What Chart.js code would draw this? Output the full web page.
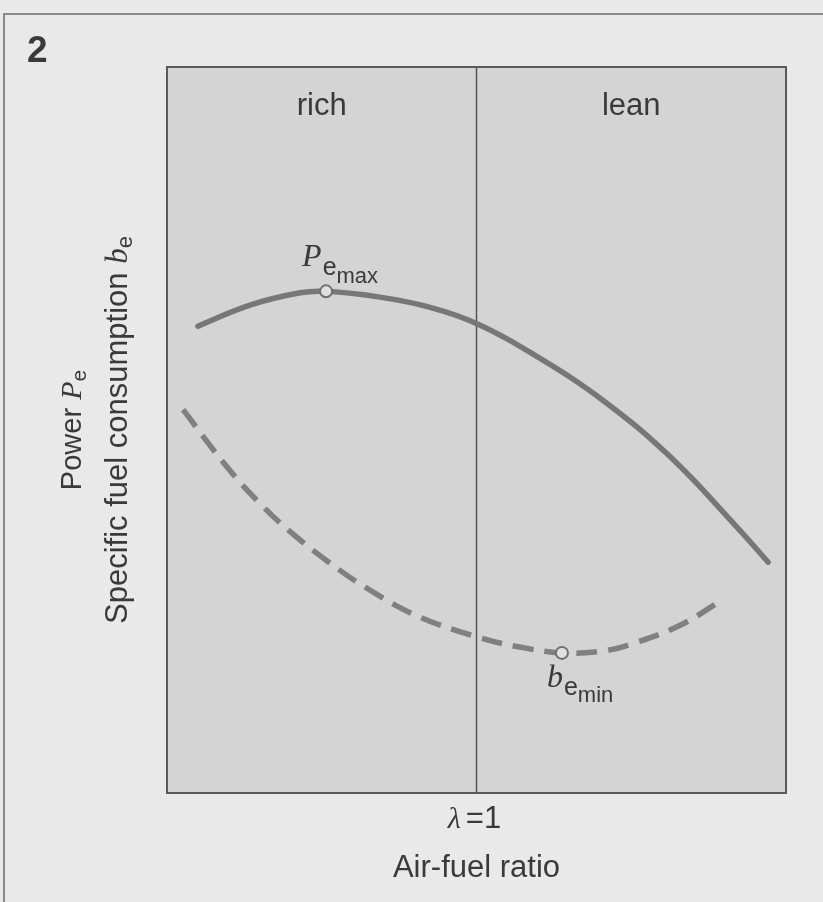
<!DOCTYPE html>
<html>
<head>
<meta charset="utf-8">
<script src="https://cdn.jsdelivr.net/npm/chart.js@4.4.1/dist/chart.umd.min.js"></script>
<style>
  html, body { margin: 0; padding: 0; background: #e9e9e9; }
  #wrap { width: 823px; height: 902px; position: relative; }
</style>
</head>
<body>
<div id="wrap"><canvas id="chart"></canvas></div>
<script>
// air-fuel ratio axis runs 0..100, lambda = 1 in the middle
const lambdaOne = 50;

// power curve P_e
const powerX = [5.0, 13.4, 21.5, 25.7, 34.4, 42.5, 49.9, 59.8, 70.4, 81.3, 92.1, 97.1];
const powerY = [64.3, 67.2, 68.9, 69.1, 68.3, 66.9, 64.7, 60.1, 54.1, 46.3, 36.6, 31.8];

// specific fuel consumption b_e (dashed)
const fuelX = [2.6, 9.7, 15.0, 19.9, 25.8, 32.3, 40.4, 50.1, 57.0, 63.8, 70.0, 75.3, 82.9, 89.0];
const fuelY = [52.8, 44.9, 39.9, 36.0, 32.0, 28.2, 24.4, 21.5, 20.1, 19.3, 19.5, 20.6, 23.1, 26.2];

// marked points
const powerMax = { x: 25.7, y: 69.1 };
const fuelMin = { x: 63.8, y: 19.3 };

const zoneLabels = ['rich', 'lean'];

const SANS = '"Liberation Sans", Arial, sans-serif';
const SERIF = '"Liberation Serif", "Times New Roman", serif';
const TEXT = '#3a3a3a';

const toPoints = (xs, ys) => xs.map((x, i) => ({ x: x, y: ys[i] }));

// draws a row of text pieces, each with own font and baseline shift
const drawRuns = (ctx, runs, x, y) => {
  runs.forEach(r => {
    ctx.font = r.font;
    ctx.fillText(r.text, x, y + (r.dy || 0));
    x += ctx.measureText(r.text).width + (r.gap || 0);
  });
};
const runsWidth = (ctx, runs) => runs.reduce((w, r) => {
  ctx.font = r.font;
  return w + ctx.measureText(r.text).width + (r.gap || 0);
}, 0);

const figurePlugin = {
  id: 'figure',
  beforeDraw(chart) {
    const { ctx, chartArea: a, scales } = chart;
    ctx.save();
    ctx.fillStyle = '#e9e9e9';
    ctx.fillRect(0, 0, chart.width, chart.height);
    // outer frame
    ctx.strokeStyle = '#8a8a8a';
    ctx.lineWidth = 2;
    ctx.beginPath();
    ctx.moveTo(823, 14);
    ctx.lineTo(4, 14);
    ctx.lineTo(4, 902);
    ctx.stroke();
    // plot area
    ctx.fillStyle = '#d4d4d4';
    ctx.fillRect(a.left, a.top, a.right - a.left, a.bottom - a.top);
    // lambda = 1 divider
    const lx = scales.x.getPixelForValue(lambdaOne);
    ctx.strokeStyle = '#555';
    ctx.lineWidth = 1.5;
    ctx.beginPath();
    ctx.moveTo(lx, a.top);
    ctx.lineTo(lx, a.bottom);
    ctx.stroke();
    ctx.restore();
  },
  afterDraw(chart) {
    const { ctx, chartArea: a, scales } = chart;
    const xs = scales.x, ys = scales.y;
    ctx.save();
    ctx.strokeStyle = '#5a5a5a';
    ctx.lineWidth = 2;
    ctx.strokeRect(a.left, a.top, a.right - a.left, a.bottom - a.top);

    ctx.fillStyle = TEXT;
    ctx.textBaseline = 'alphabetic';

    // figure number
    ctx.font = 'bold 37px ' + SANS;
    ctx.textAlign = 'left';
    ctx.fillText('2', 27, 62);

    // zone labels
    ctx.font = '31px ' + SANS;
    ctx.textAlign = 'center';
    const lx = xs.getPixelForValue(lambdaOne);
    ctx.fillText(zoneLabels[0], (a.left + lx) / 2, 115);
    ctx.fillText(zoneLabels[1], (lx + a.right) / 2, 115);

    // x axis: lambda = 1 and title
    ctx.textAlign = 'left';
    const lam = [
      { text: 'λ', font: 'italic 30px ' + SERIF, gap: 5 },
      { text: '=1', font: '31px ' + SANS }
    ];
    drawRuns(ctx, lam, lx - 2 - runsWidth(ctx, lam) / 2, 828);
    ctx.font = '31px ' + SANS;
    ctx.textAlign = 'center';
    ctx.fillText('Air-fuel ratio', lx, 877);
    ctx.textAlign = 'left';

    // point labels
    const pm = { x: xs.getPixelForValue(powerMax.x), y: ys.getPixelForValue(powerMax.y) };
    drawRuns(ctx, [
      { text: 'P', font: 'italic 32px ' + SERIF, gap: 1 },
      { text: 'e', font: '25px ' + SANS, dy: 9 },
      { text: 'max', font: '22px ' + SANS, dy: 17 }
    ], pm.x - 24, pm.y - 25);
    const bm = { x: xs.getPixelForValue(fuelMin.x), y: ys.getPixelForValue(fuelMin.y) };
    drawRuns(ctx, [
      { text: 'b', font: 'italic 32px ' + SERIF, gap: 1 },
      { text: 'e', font: '25px ' + SANS, dy: 8 },
      { text: 'min', font: '22px ' + SANS, dy: 15 }
    ], bm.x - 15, bm.y + 34);

    // y axis titles, rotated
    const t1 = [
      { text: 'Power ', font: '29px ' + SANS },
      { text: 'P', font: 'italic 30px ' + SERIF },
      { text: 'e', font: '21px ' + SANS, dy: 5 }
    ];
    const t2 = [
      { text: 'Specific fuel consumption ', font: '31px ' + SANS },
      { text: 'b', font: 'italic 31px ' + SERIF },
      { text: 'e', font: '22px ' + SANS, dy: 5 }
    ];
    [[t1, 81, 430], [t2, 127, 430]].forEach(([runs, bx, by]) => {
      ctx.save();
      ctx.translate(bx, by);
      ctx.rotate(-Math.PI / 2);
      drawRuns(ctx, runs, -runsWidth(ctx, runs) / 2, 0);
      ctx.restore();
    });
    ctx.restore();
  }
};

// markers sit on top of the curves (lower order is drawn last)
const markerStyle = {
  type: 'scatter',
  order: -1,
  pointRadius: 6,
  pointBackgroundColor: '#e0e0e0',
  pointBorderColor: '#707070',
  pointBorderWidth: 2,
  showLine: false
};

new Chart(document.getElementById('chart'), {
  type: 'scatter',
  data: {
    datasets: [{
      label: 'Power Pe',
      data: toPoints(powerX, powerY),
      showLine: true,
      borderColor: '#777',
      borderWidth: 5.5,
      tension: 0.4,
      pointRadius: 0,
      borderCapStyle: 'round'
    }, {
      label: 'Specific fuel consumption be',
      data: toPoints(fuelX, fuelY),
      showLine: true,
      borderColor: '#808080',
      borderWidth: 5.5,
      borderDash: [21, 11],
      tension: 0.4,
      pointRadius: 0
    },
    Object.assign({ label: 'Pe max', data: [powerMax] }, markerStyle),
    Object.assign({ label: 'be min', data: [fuelMin] }, markerStyle)
    ]
  },
  options: {
    responsive: true,
    maintainAspectRatio: false,
    animation: false,
    layout: { padding: { left: 167, right: 37, top: 67, bottom: 109 } },
    scales: {
      x: { type: 'linear', min: 0, max: 100, display: false },
      y: { type: 'linear', min: 0, max: 100, display: false }
    },
    plugins: {
      legend: { display: false },
      tooltip: { enabled: false }
    }
  },
  plugins: [figurePlugin]
});
</script>
</body>
</html>
